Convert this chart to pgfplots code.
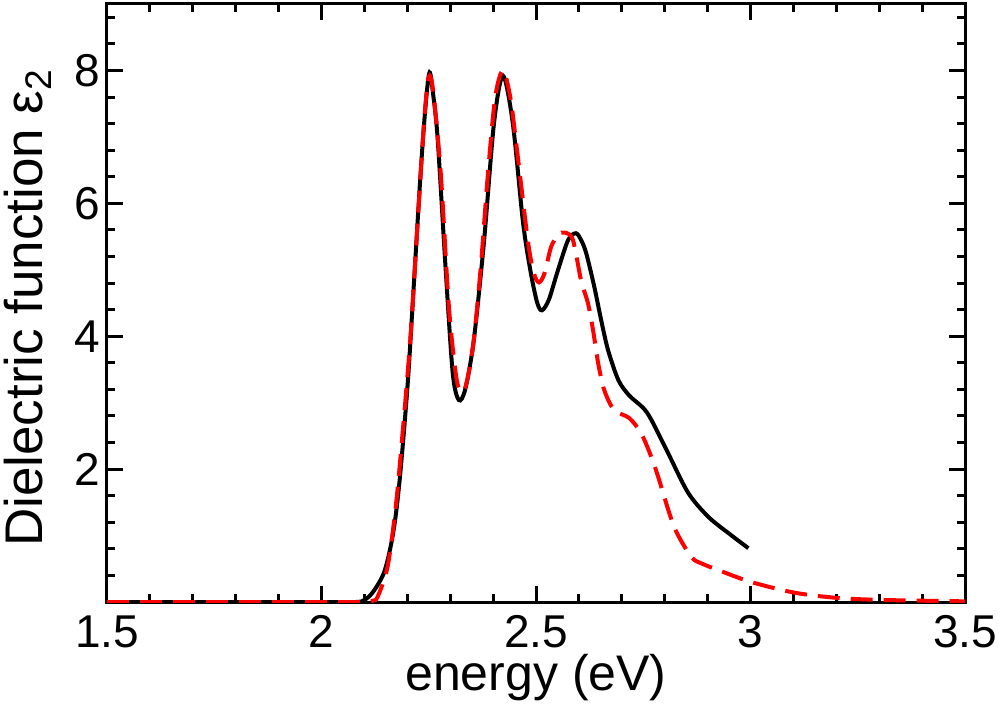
\documentclass[border=0pt]{standalone}
\usepackage{fontspec}
\setmainfont{Liberation Sans}
\usepackage{pgfplots}
\pgfplotsset{compat=1.18}
\usetikzlibrary{calc}
\pgfplotstableread{
x y
1.50 0
2.00 0
2.08 0
2.10 0.03
2.12 0.15
2.145 0.43
2.161 0.83
2.173 1.30
2.185 2.03
2.201 3.29
2.213 4.54
2.231 6.45
2.243 7.50
2.252 7.97
2.261 7.60
2.271 6.95
2.290 4.95
2.306 3.44
2.320 3.04
2.335 3.20
2.355 3.94
2.379 5.44
2.402 7.20
2.423 7.92
2.446 7.20
2.470 5.70
2.488 4.95
2.503 4.50
2.514 4.39
2.530 4.55
2.551 4.99
2.575 5.45
2.593 5.55
2.605 5.45
2.617 5.25
2.636 4.74
2.652 4.24
2.668 3.79
2.692 3.34
2.717 3.11
2.750 2.92
2.769 2.74
2.808 2.24
2.855 1.64
2.902 1.28
2.950 1.03
2.995 0.81
}\blackdata
\pgfplotstableread{
x y
1.50 0
2.00 0
2.10 0
2.12 0.02
2.131 0.08
2.154 0.53
2.173 1.43
2.189 2.54
2.208 4.04
2.225 5.80
2.240 7.30
2.250 7.90
2.260 7.70
2.278 6.45
2.297 4.44
2.315 3.35
2.329 3.16
2.340 3.35
2.355 3.94
2.372 5.10
2.388 6.45
2.405 7.60
2.423 8.00
2.440 7.60
2.453 6.95
2.481 5.44
2.495 4.95
2.507 4.81
2.520 4.95
2.535 5.34
2.552 5.53
2.567 5.56
2.586 5.45
2.605 4.84
2.621 4.50
2.633 4.09
2.645 3.59
2.659 3.19
2.682 2.89
2.717 2.77
2.745 2.54
2.769 2.18
2.785 1.88
2.822 1.13
2.862 0.68
2.886 0.58
2.925 0.48
3.002 0.30
3.103 0.14
3.205 0.06
3.313 0.03
3.500 0.01
}\reddata
\begin{document}
\begin{tikzpicture}
\begin{axis}[
  name=ax,
  scale only axis,
  width=429bp, height=299bp,
  xmin=1.5, xmax=3.5, ymin=0, ymax=9,
  xtick={1.5,2,2.5,3,3.5},
  xticklabels={1.5,2,2.5,3,3.5},
  minor xtick={1.6,1.7,1.8,1.9,2.1,2.2,2.3,2.4,2.6,2.7,2.8,2.9,3.1,3.2,3.3,3.4},
  ytick={2,4,6,8},
  yticklabels={2,4,6,8},
  minor ytick={0.4,0.8,1.2,1.6,2.4,2.8,3.2,3.6,4.4,4.8,5.2,5.6,6.4,6.8,7.2,7.6,8.4,8.8},
  tick align=inside,
  major tick length=8bp,
  minor tick length=4bp,
  every tick/.style={black, line width=1.5bp},
  axis line style={line width=1.5bp},
  tick label style={font=\fontsize{23bp}{27bp}\selectfont},
  xticklabel style={inner sep=0pt, yshift=-6.5bp},
  yticklabel style={inner sep=0pt, xshift=-3.5bp},
  xlabel={energy (eV)},
  ylabel={Dielectric function ε\textsubscript{2}},
  xlabel style={font=\fontsize{25bp}{30bp}\selectfont, at={(axis description cs:0.5,-0.148)}, anchor=base, inner sep=0pt},
  ylabel style={font=\fontsize{26.5bp}{31bp}\selectfont, at={(axis description cs:-0.0746,0.492)}, anchor=base, inner sep=0pt},
]
\addplot[black, line width=2bp, smooth, tension=0.5] table[x=x,y=y] {\blackdata};
\addplot[red, line width=2bp, dash pattern=on 11bp off 5.5bp, smooth, tension=0.5] table[x=x,y=y] {\reddata};
\end{axis}
\pgfresetboundingbox
\path ($(ax.south west)+(-53.5bp,-52.5bp)$) rectangle ($(ax.north east)+(17.5bp,2bp)$);
\end{tikzpicture}
\end{document}
